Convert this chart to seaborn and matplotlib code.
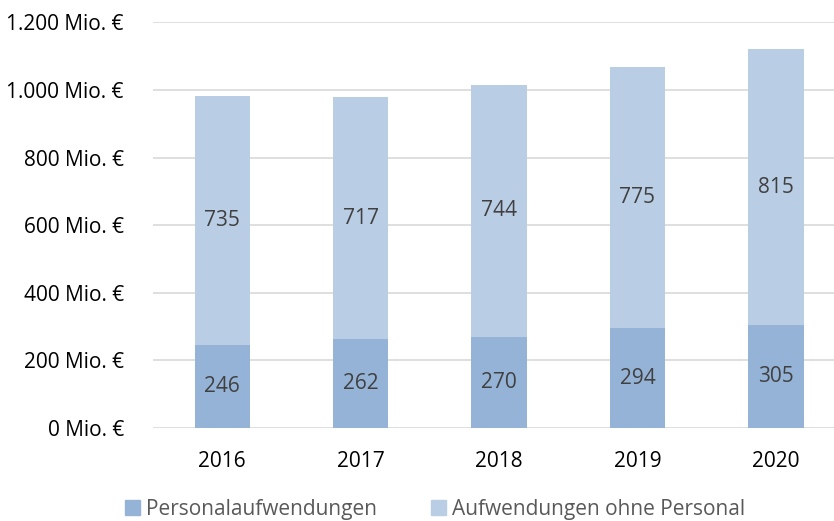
import pandas as pd
import seaborn as sns
import matplotlib.pyplot as plt
from matplotlib.patches import Patch

years = ["2016", "2017", "2018", "2019", "2020"]
personal = [246, 262, 270, 294, 305]
ohne_personal = [735, 717, 744, 775, 815]
y_ticks = [0, 200, 400, 600, 800, 1000, 1200]

c_personal = "#95B3D7"
c_ohne = "#B9CDE5"

df = pd.DataFrame({"Jahr": years, "Personal": personal, "Ohne": ohne_personal})
df["Gesamt"] = df["Personal"] + df["Ohne"]

sns.set_style("white")
plt.rcParams["font.family"] = ["Open Sans", "DejaVu Sans"]

fig = plt.figure(figsize=(8.34, 5.21), dpi=100)
ax = fig.add_axes([153 / 834, 0.179, 1 - 153 / 834, 0.957 - 0.179])

# Gesamt zuerst, Personal darueber -> gestapelter Eindruck
sns.barplot(data=df, x="Jahr", y="Gesamt", color=c_ohne, width=0.4,
            saturation=1, linewidth=0, ax=ax, zorder=3)
sns.barplot(data=df, x="Jahr", y="Personal", color=c_personal, width=0.4,
            saturation=1, linewidth=0, ax=ax, zorder=3)

for i, row in df.iterrows():
    ax.text(i, row["Personal"] / 2, f"{row['Personal']}", ha="center",
            va="center", fontsize=15, color="#404040", zorder=4)
    ax.text(i, row["Personal"] + row["Ohne"] / 2, f"{row['Ohne']}",
            ha="center", va="center", fontsize=15, color="#404040", zorder=4)

ax.set_ylim(0, 1200)
ax.set_xlim(-0.5, 4.42)
ax.set_yticks(y_ticks)
ax.set_yticklabels([f"{v:,}".replace(",", ".") + " Mio. €" for v in y_ticks])
ax.yaxis.grid(True, color="#D9D9D9", linewidth=1.2, zorder=0)
ax.set_axisbelow(True)
for s in ax.spines.values():
    s.set_visible(False)
ax.set_xlabel("")
ax.set_ylabel("")
ax.tick_params(axis="y", length=0, pad=21, labelsize=15, labelcolor="black")
ax.tick_params(axis="x", length=0, pad=17, labelsize=15, labelcolor="black")

handles = [Patch(color=c_personal, label="Personalaufwendungen"),
           Patch(color=c_ohne, label="Aufwendungen ohne Personal")]
fig.legend(handles=handles, loc="center", bbox_to_anchor=(0.522, 0.022),
           ncol=2, frameon=False, fontsize=15, labelcolor="#595959",
           handlelength=0.7, handleheight=0.7, handletextpad=0.3,
           columnspacing=2.6)

fig.savefig("out.png", dpi=100)
